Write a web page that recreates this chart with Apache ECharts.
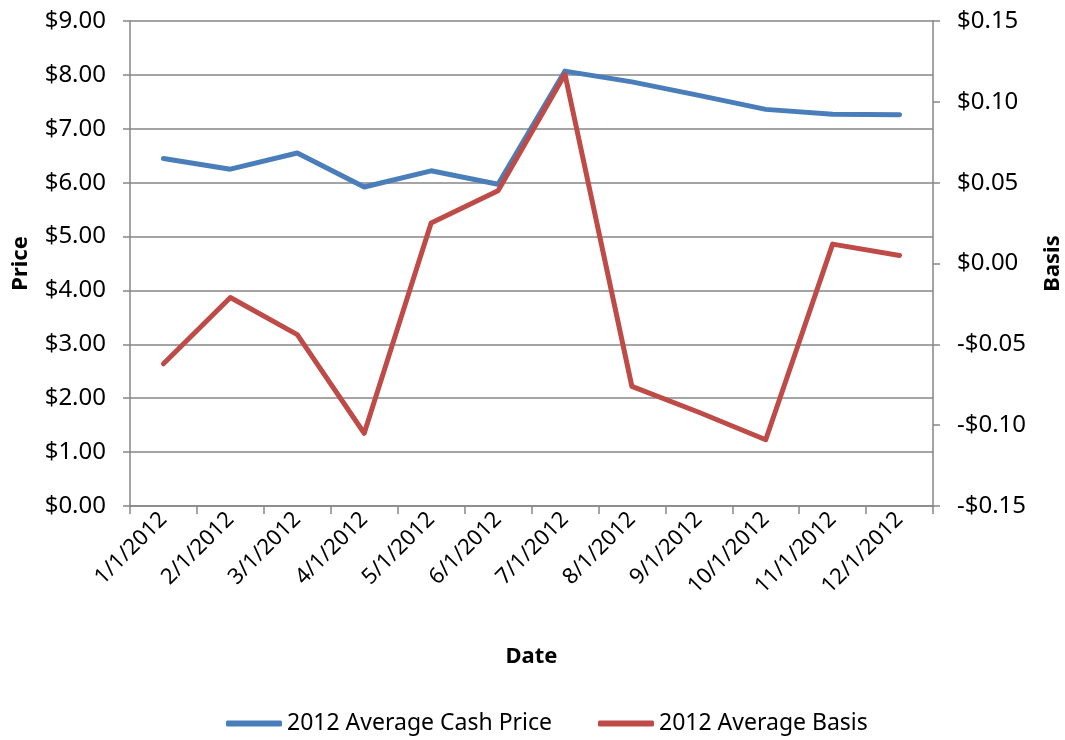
<!DOCTYPE html>
<html><head><meta charset="utf-8">
<script src="https://cdn.jsdelivr.net/npm/echarts@6/dist/echarts.min.js"></script>
<style>html,body{margin:0;padding:0;background:#fff}#c{width:1065px;height:740px}</style>
</head><body><div id="c"></div>
<script>
const categories = ['1/1/2012','2/1/2012','3/1/2012','4/1/2012','5/1/2012','6/1/2012','7/1/2012','8/1/2012','9/1/2012','10/1/2012','11/1/2012','12/1/2012'];
const cashPrice = [6.45, 6.25, 6.55, 5.92, 6.22, 5.97, 8.07, 7.87, 7.62, 7.36, 7.27, 7.26];
const basis = [-0.062, -0.021, -0.044, -0.105, 0.025, 0.045, 0.117, -0.076, -0.092, -0.109, 0.012, 0.005];
const seriesNames = ['2012 Average Cash Price', '2012 Average Basis'];

const FONT = 'Noto Sans';
const grey = '#868686';
const money = v => (v < -1e-9 ? '-' : '') + '$' + Math.abs(v).toFixed(2);

const chart = echarts.init(document.getElementById('c'));
chart.setOption({
  animation: false,
  textStyle: { fontFamily: FONT, color: '#000' },
  grid: { left: 130, right: 132, top: 21, bottom: 234, containLabel: false, outerBoundsMode: 'none' },
  legend: {
    top: 707, left: 221, itemWidth: 56, itemHeight: 6, itemGap: 46,
    icon: 'roundRect',
    textStyle: { fontFamily: FONT, fontSize: 23, color: '#000' },
    data: seriesNames
  },
  xAxis: {
    type: 'category', data: categories, boundaryGap: true,
    name: 'Date', nameLocation: 'middle', nameGap: 140,
    nameTextStyle: { fontFamily: FONT, fontSize: 22, fontWeight: 'bold', color: '#000' },
    axisLine: { lineStyle: { color: grey, width: 1.5 } },
    axisTick: { show: true, length: 8, lineStyle: { color: grey, width: 1.5 } },
    axisLabel: { rotate: 45, fontSize: 22, color: '#000', margin: 10, interval: 0 },
    splitLine: { show: false }
  },
  yAxis: [
    {
      type: 'value', min: 0, max: 9, interval: 1, position: 'left',
      name: 'Price', nameLocation: 'middle', nameGap: 98, nameRotate: 90,
      nameTextStyle: { fontFamily: FONT, fontSize: 22, fontWeight: 'bold', color: '#000' },
      axisLine: { show: true, lineStyle: { color: grey, width: 1.5 } },
      axisTick: { show: true, length: 7, lineStyle: { color: grey, width: 1.5 } },
      axisLabel: { fontSize: 24, color: '#000', margin: 24, formatter: money },
      splitLine: { show: true, lineStyle: { color: grey, width: 1.5 } }
    },
    {
      type: 'value', min: -0.15, max: 0.15, interval: 0.05, position: 'right',
      name: 'Basis', nameLocation: 'middle', nameGap: 109, nameRotate: 90,
      nameTextStyle: { fontFamily: FONT, fontSize: 22, fontWeight: 'bold', color: '#000' },
      axisLine: { show: true, lineStyle: { color: grey, width: 1.5 } },
      axisTick: { show: true, length: 7, lineStyle: { color: grey, width: 1.5 } },
      axisLabel: { fontSize: 24, color: '#000', margin: 24, formatter: money },
      splitLine: { show: false }
    }
  ],
  series: [
    {
      name: seriesNames[0], type: 'line', yAxisIndex: 0, data: cashPrice,
      showSymbol: false, symbol: 'none',
      lineStyle: { color: '#4A7EBB', width: 5, cap: 'round', join: 'round' },
      itemStyle: { color: '#4A7EBB' }
    },
    {
      name: seriesNames[1], type: 'line', yAxisIndex: 1, data: basis,
      showSymbol: false, symbol: 'none',
      lineStyle: { color: '#BE4B48', width: 5, cap: 'round', join: 'round' },
      itemStyle: { color: '#BE4B48' }
    }
  ]
});
</script></body></html>
